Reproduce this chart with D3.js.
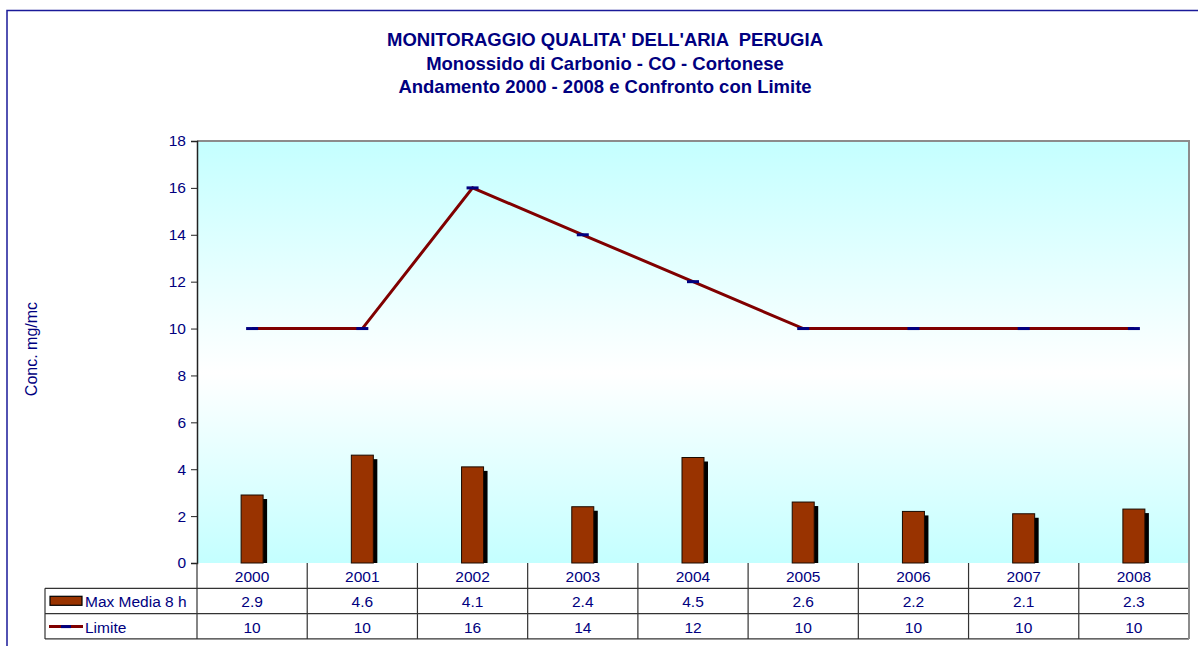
<!DOCTYPE html>
<html lang="it">
<head>
<meta charset="UTF-8">
<title>Monitoraggio qualità dell'aria Perugia</title>
<script src="https://cdn.jsdelivr.net/npm/d3@7"></script>
<style>
    body { margin: 0; background: #fff; }
    svg { display: block; }
    text { font-family: Arial, "Liberation Sans", sans-serif; fill: #000080; }
    .title { font-size: 18.5px; font-weight: bold; white-space: pre; }
    .cell { font-size: 15.5px; }
</style>
</head>
<body>
<svg width="1198" height="646"></svg>
<script>
    // dati
    var anni = ["2000", "2001", "2002", "2003", "2004", "2005", "2006", "2007", "2008"];
    var maxMedia = [2.9, 4.6, 4.1, 2.4, 4.5, 2.6, 2.2, 2.1, 2.3];
    var limite = [10, 10, 16, 14, 12, 10, 10, 10, 10];
    var yTicks = [0, 2, 4, 6, 8, 10, 12, 14, 16, 18];
    var titoli = ["MONITORAGGIO QUALITA' DELL'ARIA  PERUGIA",
        "Monossido di Carbonio - CO - Cortonese",
        "Andamento 2000 - 2008 e Confronto con Limite"];

    var svg = d3.select("svg");
    var pLeft = 197, pRight = 1189, pTop = 141, pBottom = 563;
    var rowH = 25.3, tableLeft = 45;

    // cornice esterna
    svg.append("path")
        .attr("d", "M7,646 V10.5 H1198")
        .attr("fill", "none")
        .attr("stroke", "#1a1a99")
        .attr("stroke-width", 1.5);

    // titolo
    svg.selectAll(".title")
        .data(titoli)
        .enter()
        .append("text")
        .attr("class", "title")
        .attr("x", 605)
        .attr("y", function (d, i) { return 46 + i * 23.5; })
        .attr("text-anchor", "middle")
        .text(function (d) { return d; });

    var x = d3.scaleBand().domain(anni).range([pLeft, pRight]);
    var y = d3.scaleLinear().domain([0, 18]).range([pBottom, pTop]);

    // sfondo sfumato
    var grad = svg.append("defs").append("linearGradient")
        .attr("id", "sfondo").attr("x1", 0).attr("y1", 0).attr("x2", 0).attr("y2", 1);
    grad.append("stop").attr("offset", "0%").attr("stop-color", "#c4ffff");
    grad.append("stop").attr("offset", "55%").attr("stop-color", "#ffffff");
    grad.append("stop").attr("offset", "100%").attr("stop-color", "#c4ffff");

    svg.append("rect")
        .attr("x", pLeft).attr("y", pTop)
        .attr("width", pRight - pLeft).attr("height", pBottom - pTop)
        .attr("fill", "url(#sfondo)");
    svg.append("path")
        .attr("d", "M" + pLeft + "," + pTop + " H" + pRight + " V" + pBottom)
        .attr("fill", "none")
        .attr("stroke", "#8c8c8c")
        .attr("stroke-width", 2);

    // asse y
    var axisY = d3.axisLeft(y).tickValues(yTicks).tickSize(6).tickPadding(5);
    var gy = svg.append("g")
        .attr("transform", "translate(" + pLeft + ",0)")
        .call(axisY);
    gy.select(".domain").attr("stroke", "#222").attr("stroke-width", 1.5);
    gy.selectAll(".tick line").attr("stroke", "#222");
    gy.selectAll(".tick text")
        .attr("fill", "#000080")
        .style("font-family", "Arial, 'Liberation Sans', sans-serif")
        .style("font-size", "15.5px");

    svg.append("text")
        .attr("transform", "translate(37,349) rotate(-90)")
        .attr("text-anchor", "middle")
        .style("font-size", "16px")
        .text("Conc. mg/mc");

    // barre con ombra
    var bw = 22;
    var barre = svg.append("g");
    barre.selectAll(".ombra")
        .data(maxMedia)
        .enter()
        .append("rect")
        .attr("x", function (d, i) { return x(anni[i]) + x.bandwidth() / 2 - bw / 2 + 4; })
        .attr("y", function (d) { return y(d) + 4; })
        .attr("width", bw)
        .attr("height", function (d) { return pBottom - y(d) - 4; })
        .attr("fill", "#000");
    barre.selectAll(".barra")
        .data(maxMedia)
        .enter()
        .append("rect")
        .attr("x", function (d, i) { return x(anni[i]) + x.bandwidth() / 2 - bw / 2; })
        .attr("y", function (d) { return y(d); })
        .attr("width", bw)
        .attr("height", function (d) { return pBottom - y(d); })
        .attr("fill", "#993300")
        .attr("stroke", "#1a0a00")
        .attr("stroke-width", 1);

    // linea limite
    var linea = d3.line()
        .x(function (d, i) { return x(anni[i]) + x.bandwidth() / 2; })
        .y(function (d) { return y(d); });
    svg.append("path")
        .datum(limite)
        .attr("d", linea)
        .attr("fill", "none")
        .attr("stroke", "#800000")
        .attr("stroke-width", 3);
    svg.selectAll(".marker")
        .data(limite)
        .enter()
        .append("rect")
        .attr("x", function (d, i) { return x(anni[i]) + x.bandwidth() / 2 - 6; })
        .attr("y", function (d) { return y(d) - 1.5; })
        .attr("width", 12)
        .attr("height", 3)
        .attr("fill", "#000080");

    // tabella dati
    var tab = svg.append("g");
    var tabBottom = pBottom + rowH * 3;
    var lc = "#333";
    [pBottom + rowH, pBottom + rowH * 2, tabBottom].forEach(function (yy) {
        tab.append("line")
            .attr("x1", tableLeft).attr("x2", pRight)
            .attr("y1", yy).attr("y2", yy)
            .attr("stroke", lc).attr("stroke-width", 1.2);
    });
    tab.append("line")
        .attr("x1", tableLeft).attr("x2", tableLeft)
        .attr("y1", pBottom + rowH).attr("y2", tabBottom)
        .attr("stroke", lc).attr("stroke-width", 1.2);
    anni.concat(["fine"]).forEach(function (a, i) {
        var xx = i < anni.length ? x(a) : pRight;
        tab.append("line")
            .attr("x1", xx).attr("x2", xx)
            .attr("y1", pBottom).attr("y2", tabBottom)
            .attr("stroke", i === anni.length ? "#8c8c8c" : lc)
            .attr("stroke-width", i === anni.length ? 2 : 1.2);
    });

    var righe = [anni, maxMedia, limite];
    righe.forEach(function (riga, r) {
        tab.selectAll(".r" + r)
            .data(riga)
            .enter()
            .append("text")
            .attr("class", "cell")
            .attr("x", function (d, i) { return x(anni[i]) + x.bandwidth() / 2; })
            .attr("y", pBottom + rowH * r + 19)
            .attr("text-anchor", "middle")
            .text(function (d) { return d; });
    });

    // legenda nella tabella
    tab.append("rect")
        .attr("x", 50).attr("y", pBottom + rowH + 8)
        .attr("width", 32).attr("height", 9)
        .attr("fill", "#993300").attr("stroke", "#000").attr("stroke-width", 1.2);
    tab.append("text").attr("class", "cell")
        .attr("x", 85).attr("y", pBottom + rowH + 19)
        .text("Max Media 8 h");
    tab.append("line")
        .attr("x1", 49).attr("x2", 83)
        .attr("y1", pBottom + rowH * 2 + 13).attr("y2", pBottom + rowH * 2 + 13)
        .attr("stroke", "#800000").attr("stroke-width", 3);
    tab.append("line")
        .attr("x1", 61).attr("x2", 71)
        .attr("y1", pBottom + rowH * 2 + 13).attr("y2", pBottom + rowH * 2 + 13)
        .attr("stroke", "#000080").attr("stroke-width", 3);
    tab.append("text").attr("class", "cell")
        .attr("x", 85).attr("y", pBottom + rowH * 2 + 19)
        .text("Limite");
</script>
</body>
</html>
